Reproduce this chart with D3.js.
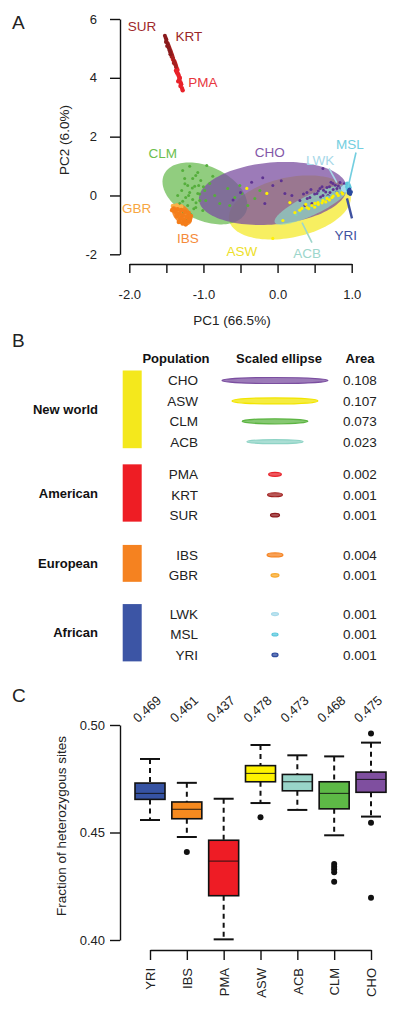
<!DOCTYPE html>
<html><head><meta charset="utf-8">
<script src="https://cdn.jsdelivr.net/npm/d3@7"></script>
<style>
body{margin:0;background:#fff}
svg{display:block}
text{font-family:"Liberation Sans",Arial,Helvetica,sans-serif}
</style>
</head><body><svg id="chart" width="400" height="1013"></svg>
<script>
// ---------------- Panel A data (PCA) ----------------
const ptsSUR = [[-1.52,5.43],[-1.51,5.36],[-1.50,5.30],[-1.505,5.22],[-1.48,5.15],[-1.49,5.08],[-1.47,5.02],[-1.46,4.95],[-1.45,4.88],[-1.445,4.80]];
const ptsKRT = [[-1.50,5.25],[-1.485,5.18],[-1.47,5.10],[-1.46,5.03],[-1.45,4.96],[-1.44,4.90],[-1.43,4.83],[-1.42,4.76],[-1.41,4.68],[-1.40,4.60],[-1.39,4.52],[-1.38,4.45],[-1.37,4.38],[-1.43,4.72],[-1.40,4.50]];
const ptsPMA = [[-1.41,4.62],[-1.39,4.55],[-1.38,4.48],[-1.37,4.40],[-1.36,4.33],[-1.35,4.27],[-1.36,4.20],[-1.34,4.12],[-1.33,4.05],[-1.32,3.98],[-1.33,3.92],[-1.31,3.85],[-1.30,3.78],[-1.31,3.72],[-1.29,3.65],[-1.28,3.58],[-1.35,4.15],[-1.32,4.00],[-1.34,3.88],[-1.37,4.25]];
const ptsCLM = [[-1.185,0.99],[-0.955,1.02],[-1.077,0.78],[-1.253,0.58],[-1.145,0.58],[-1.036,0.51],[-1.212,0.34],[-1.118,0.31],[-1.293,0.17],[-1.185,0.10],[-1.077,0.07],[-0.982,0.17],[-1.239,-0.07],[-1.145,-0.14],[-1.05,-0.17],[-1.32,-0.27],[-1.212,-0.34],[-1.104,-0.41],[-1.266,-0.58],[-1.172,-0.65],[-1.064,0.34],[-0.915,0.41],[-0.847,0.0],[-0.78,-0.27],[-0.672,0.24],[-0.577,-0.07],[-0.482,0.07],[-0.401,-0.34],[-0.307,-0.10],[-0.874,0.65],[-1.347,0.0],[-1.009,-0.51],[-1.226,-0.85],[-1.104,0.68],[-1.28,0.85],[-0.969,-0.17],[-0.645,-0.34],[-0.509,0.34],[-0.239,0.17],[-1.15,0.25],[-1.20,0.0],[-1.10,-0.25],[-1.25,0.40],[-1.05,0.05],[-1.13,-0.45],[-1.28,-0.20],[-1.00,0.30]];
const ptsGBR = [[-1.41,-0.36],[-1.38,-0.40],[-1.36,-0.35],[-1.33,-0.42],[-1.39,-0.48],[-1.30,-0.38],[-1.35,-0.52]];
const ptsIBS = [[-1.40,-0.45],[-1.35,-0.47],[-1.30,-0.50],[-1.25,-0.55],[-1.20,-0.60],[-1.38,-0.55],[-1.33,-0.62],[-1.28,-0.68],[-1.22,-0.72],[-1.18,-0.78],[-1.36,-0.70],[-1.31,-0.78],[-1.26,-0.84],[-1.21,-0.88],[-1.33,-0.90],[-1.28,-0.95],[-1.24,-0.98],[-1.42,-0.50],[-1.17,-0.70],[-1.19,-0.85]];
const ptsCHO = [[-0.064,0.34],[0.099,0.07],[0.193,0.0],[0.301,-0.17],[0.396,0.10],[0.436,-0.07],[0.531,0.07],[0.572,0.24],[0.612,0.0],[0.666,0.27],[0.707,0.10],[0.747,0.41],[0.801,0.24],[0.842,0.44],[0.869,0.10],[0.612,0.92],[0.464,-0.27],[-0.172,-0.27],[0.369,-0.34],[0.55,0.15],[0.60,0.30],[0.65,0.12],[0.70,0.30],[0.75,0.20],[0.78,0.35],[0.82,0.32],[0.85,0.25],[0.88,0.30],[0.72,0.45],[0.62,0.18],[0.50,0.05],[0.45,0.20],[0.68,0.0],[0.80,0.12],[0.90,0.40],[0.58,-0.05],[0.40,-0.10],[0.35,0.05],[-0.35,0.45],[-0.50,0.10],[-0.20,0.60],[0.05,0.50],[-0.60,-0.15]];
const ptsASW = [[0.234,-0.58],[0.328,-0.44],[0.396,-0.41],[0.464,-0.34],[0.504,-0.27],[0.545,-0.24],[0.612,-0.17],[0.666,-0.10],[0.734,-0.07],[0.801,0.07],[0.869,0.10],[0.910,0.17],[-0.145,0.07],[-0.415,0.24],[-0.064,-1.46],[0.166,-0.24],[0.072,-0.85],[0.30,-0.50],[0.42,-0.45],[0.55,-0.30],[0.60,-0.25],[0.70,-0.15],[0.75,-0.02],[0.82,0.0],[0.50,-0.40],[0.65,-0.22],[0.38,-0.30],[0.88,0.05]];
const ptsACB = [[0.30,-0.55],[0.35,-0.45],[0.45,-0.40],[0.52,-0.35],[0.58,-0.20],[0.68,-0.05],[0.74,0.02],[0.80,0.10],[0.85,0.15],[0.25,-0.65],[0.62,-0.12],[0.92,0.20]];
const ptsLWK = [[0.88,0.25],[0.90,0.30],[0.92,0.22],[0.93,0.28],[0.91,0.18],[0.89,0.20]];
const ptsMSL = [[0.94,0.30],[0.95,0.25],[0.96,0.35],[0.95,0.20],[0.97,0.28],[0.94,0.40]];
const ptsYRI = [[0.96,0.15],[0.97,0.10],[0.98,0.05],[0.97,0.20],[0.99,0.12],[0.96,0.08]];

// confidence ellipses: centre and two conjugate semi-axis vectors (PC units)
const ellASW = {c:[0.166,-0.408], u:[0.819,0.439], v:[0.0843,-0.998]};
const ellCLM = {c:[-0.98,0.07], u:[0.551,-0.647], v:[-0.154,-0.832]};
const ellCHO = {c:[-0.064,0.068], u:[0.996,0.219], v:[0.0365,-1.05]};
const ellACB = {c:[0.457,-0.323], u:[0.494,0.595], v:[0.0584,-0.307]};
const ellIBS = {c:[-1.29,-0.646], u:[0.1086,-0.3257], v:[-0.0828,-0.175]};

const pcaLabels = ["SUR","KRT","PMA","CLM","CHO","LWK","MSL","GBR","IBS","ASW","ACB","YRI"];
const pcaLabelPos = [[-1.83,5.75],[-1.196,5.41],[-1.009,3.84],[-1.55,1.43],[-0.105,1.46],[0.573,1.19],[0.977,1.73],[-1.90,-0.44],[-1.21,-1.46],[-0.48,-1.90],[0.40,-1.95],[0.92,-1.34]];
const leaders = [["MSL",[1.058,1.46],[0.95,0.27]],["LWK",[0.694,0.92],[0.80,0.44]],["YRI",[0.936,-0.10],[1.004,-0.78]],["ACB",[0.33,-0.92],[0.464,-1.60]]];
const xTicksA = [-2,-1.5,-1,-0.5,0,0.5,1];
const yTicksA = [-2,0,2,4,6];

// ---------------- Panel B data ----------------
const groupNames = ["New world","American","European","African"];
const popB = ["CHO","ASW","CLM","ACB","PMA","KRT","SUR","IBS","GBR","LWK","MSL","YRI"];
const popGroup = [0,0,0,0,1,1,1,2,2,3,3,3];
const areaB = ["0.108","0.107","0.073","0.023","0.002","0.001","0.001","0.004","0.001","0.001","0.001","0.001"];
const ellWidthB = [1.0,0.81,0.62,0.53,0.12,0.14,0.085,0.15,0.075,0.066,0.057,0.057];
const ellHeightB = [0.057,0.057,0.047,0.038,0.038,0.038,0.033,0.038,0.033,0.028,0.028,0.033];

// ---------------- Panel C data ----------------
const boxCats = ["YRI","IBS","PMA","ASW","ACB","CLM","CHO"];
const meansC = ["0.469","0.461","0.437","0.478","0.473","0.468","0.475"];
const whiskLo = [0.4558,0.4479,0.4003,0.4637,0.4605,0.4487,0.4574];
const q1C = [0.4654,0.4564,0.4206,0.4736,0.4694,0.4610,0.4687];
const medC = [0.4682,0.4608,0.4367,0.4775,0.4736,0.4682,0.4747];
const q3C = [0.4730,0.4642,0.4464,0.4811,0.4770,0.4736,0.4781];
const whiskHi = [0.4842,0.4731,0.4657,0.4907,0.4859,0.4854,0.4918];
const outliersC = [[],[0.4409],[],[0.4571],[],[0.4353,0.4341,0.4329,0.4315,0.4271],[0.4961,0.4545,0.4197]];
const yTicksC = [0.40,0.45,0.50];

// ---------------- styles ----------------
const popColor = {SUR:"#8E1B1E",KRT:"#A1201F",PMA:"#E8232B",CLM:"#5DB543",GBR:"#F8A92E",IBS:"#F5821F",
  CHO:"#7B4FA0",ASW:"#F2E500",ACB:"#8ED3C5",LWK:"#A8DAEA",MSL:"#5CC8DD",YRI:"#2F4C9F"};
const labelColor = {SUR:"#A0282B",KRT:"#9A2527",PMA:"#E8373D",CLM:"#6CBE4E",CHO:"#8358A8",LWK:"#A7D8E8",MSL:"#73CEE0",
  GBR:"#F7A541",IBS:"#F58A3A",ASW:"#EDE02A",ACB:"#9DD6CB",YRI:"#3F52A0"};
const dotColor = {SUR:"#8A1A1C",KRT:"#A8201F",PMA:"#E8222A",CLM:"#55AE3C",GBR:"#F9B24A",IBS:"#F47D1A",
  CHO:"#5E3391",ASW:"#FFF000",ACB:"#7FCBBB",LWK:"#A8DAEA",MSL:"#5CC8DD",YRI:"#2A4A9E"};
const groupColors = ["#F4E81C","#EE1D24","#F58220","#3C55A5"];
const boxColors = ["#3653A3","#F68A1F","#EE1C25","#FFF200","#99D5C9","#5DB946","#7F4F9F"];

const svg = d3.select("#chart");
const FONT = "'Liberation Sans',Arial,Helvetica,sans-serif";

// ================= Panel A =================
const xA = d3.scaleLinear().domain([-2,1]).range([129.3,351.7]);
const yA = d3.scaleLinear().domain([-2,6]).range([254.3,19]);
svg.append("text").attr("x",12).attr("y",28.5).attr("font-size",19).attr("fill","#222").text("A");

const fmtA = d => (d<0?"-":"")+Math.abs(d).toFixed(1);
const gxA = svg.append("g").attr("transform","translate(0,264)")
  .call(d3.axisBottom(xA).tickValues(xTicksA).tickSize(9).tickSizeOuter(0).tickPadding(17)
    .tickFormat(d => Number.isInteger(d) ? fmtA(d) : ""));
const gyA = svg.append("g").attr("transform","translate(120,0)")
  .call(d3.axisLeft(yA).tickValues(yTicksA).tickSize(10).tickSizeOuter(0).tickPadding(13)
    .tickFormat(d => (d<0?"-":"")+Math.abs(d)));
[gxA,gyA].forEach(g=>{
  g.attr("font-family",FONT).attr("font-size",13);
  g.selectAll("path,line").attr("stroke","#111").attr("stroke-width",1.4);
  g.selectAll("text").attr("fill","#222");
});
svg.append("text").attr("x",232).attr("y",325).attr("text-anchor","middle").attr("font-size",13.5).attr("fill","#222").text("PC1 (66.5%)");
svg.append("text").attr("transform","translate(69,140) rotate(-90)").attr("text-anchor","middle").attr("font-size",13.5).attr("fill","#222").text("PC2 (6.0%)");

function ellPath(e){
  const pts = d3.range(0,360,3).map(t=>{const r=t*Math.PI/180;
    return [xA(e.c[0]+e.u[0]*Math.cos(r)+e.v[0]*Math.sin(r)), yA(e.c[1]+e.u[1]*Math.cos(r)+e.v[1]*Math.sin(r))];});
  return d3.line().curve(d3.curveLinearClosed)(pts);
}
const gA = svg.append("g");
[[ellASW,"ASW",0.62],[ellCLM,"CLM",0.68],[ellCHO,"CHO",0.75],[ellACB,"ACB",0.72],[ellIBS,"IBS",0.9]].forEach(([e,p,o])=>{
  gA.append("path").attr("d",ellPath(e)).attr("fill",popColor[p]).attr("fill-opacity",o).attr("stroke","none");
});
const ptSets = [["CLM",ptsCLM,1.5],["GBR",ptsGBR,2.4],["IBS",ptsIBS,2.4],["CHO",ptsCHO,1.5],["ACB",ptsACB,1.6],["ASW",ptsASW,1.6],
  ["LWK",ptsLWK,2.2],["MSL",ptsMSL,2.2],["YRI",ptsYRI,2],["PMA",ptsPMA,2.2],["KRT",ptsKRT,2],["SUR",ptsSUR,2]];
ptSets.forEach(([p,pts,r])=>{
  gA.selectAll(null).data(pts).enter().append("circle")
    .attr("cx",d=>xA(d[0])).attr("cy",d=>yA(d[1])).attr("r",r).attr("fill",dotColor[p]);
});
leaders.forEach(([p,a,b])=>{
  gA.append("line").attr("x1",xA(a[0])).attr("y1",yA(a[1])).attr("x2",xA(b[0])).attr("y2",yA(b[1]))
    .attr("stroke",labelColor[p]).attr("stroke-width",p==="YRI"?2.4:1.6);
});
pcaLabels.forEach((p,i)=>{
  gA.append("text").attr("x",xA(pcaLabelPos[i][0])).attr("y",yA(pcaLabelPos[i][1])).attr("dy","0.36em")
    .attr("text-anchor","middle").attr("font-size",13.5).attr("fill",labelColor[p]).text(p);
});

// ================= Panel B =================
svg.append("text").attr("x",12).attr("y",347).attr("font-size",19).attr("fill","#222").text("B");
const headers = [["Population",176],["Scaled ellipse",279],["Area",360]];
headers.forEach(([t,x])=>svg.append("text").attr("x",x).attr("y",363).attr("text-anchor","middle")
  .attr("font-size",13).attr("font-weight","bold").attr("fill","#111").text(t));
const gapOffsets = [0,0.6,1.55,2.45];
const slot = i => i + gapOffsets[popGroup[i]];
const yRow = d3.scaleLinear().domain([0,1]).range([380.5,400.9]);
const ellScale = d3.scaleLinear().domain([0,1]).range([0,106]);
groupNames.forEach((g,gi)=>{
  const idx = popGroup.map((v,i)=>v===gi?i:-1).filter(i=>i>=0);
  const top = yRow(slot(idx[0]))-10, bot = yRow(slot(idx[idx.length-1]))+6.5;
  svg.append("rect").attr("x",122.7).attr("y",top).attr("width",19).attr("height",bot-top).attr("fill",groupColors[gi]);
  svg.append("text").attr("x",98).attr("y",(top+bot)/2).attr("dy","0.36em").attr("text-anchor","end")
    .attr("font-size",13).attr("font-weight","bold").attr("fill","#111").text(g);
});
popB.forEach((p,i)=>{
  const y = yRow(slot(i));
  svg.append("text").attr("x",198).attr("y",y).attr("dy","0.36em").attr("text-anchor","end")
    .attr("font-size",13.5).attr("fill","#222").text(p);
  svg.append("ellipse").attr("cx",275).attr("cy",y).attr("rx",ellScale(ellWidthB[i])/2).attr("ry",ellScale(ellHeightB[i])/2)
    .attr("fill",popColor[p]).attr("fill-opacity",0.75).attr("stroke",popColor[p]).attr("stroke-width",1.2);
  svg.append("text").attr("x",343).attr("y",y).attr("dy","0.36em").attr("font-size",13.5).attr("fill","#222").text(areaB[i]);
});

// ================= Panel C =================
svg.append("text").attr("x",12).attr("y",702).attr("font-size",19).attr("fill","#222").text("C");
const xC = d3.scalePoint().domain(boxCats).range([150,371]);
const yC = d3.scaleLinear().domain([0.40,0.50]).range([940,725]);
const gyC = svg.append("g").attr("transform","translate(120,0)")
  .call(d3.axisLeft(yC).tickValues(yTicksC).tickSize(10).tickSizeOuter(0).tickPadding(5).tickFormat(d3.format(".2f")));
const gxC = svg.append("g").attr("transform","translate(0,950)")
  .call(d3.axisBottom(xC).tickSize(10).tickSizeOuter(0).tickPadding(8));
gxC.selectAll("text").attr("transform","rotate(-90)").attr("text-anchor","end").attr("x",-18).attr("y",0).attr("dy","0.36em");
[gxC,gyC].forEach(g=>{
  g.attr("font-family",FONT).attr("font-size",13);
  g.selectAll("path,line").attr("stroke","#111").attr("stroke-width",1.4);
  g.selectAll("text").attr("fill","#222");
});
svg.append("text").attr("transform","translate(66,826) rotate(-90)").attr("text-anchor","middle").attr("font-size",13.5).attr("fill","#222").text("Fraction of heterozygous sites");

const gC = svg.append("g");
const bw = 30, cw = 20;
boxCats.forEach((c,i)=>{
  const x = xC(c);
  gC.append("line").attr("x1",x).attr("x2",x).attr("y1",yC(whiskHi[i])).attr("y2",yC(q3C[i]))
    .attr("stroke","#111").attr("stroke-width",2).attr("stroke-dasharray","5,4");
  gC.append("line").attr("x1",x).attr("x2",x).attr("y1",yC(q1C[i])).attr("y2",yC(whiskLo[i]))
    .attr("stroke","#111").attr("stroke-width",2).attr("stroke-dasharray","5,4");
  [whiskHi[i],whiskLo[i]].forEach(v=>gC.append("line").attr("x1",x-cw/2).attr("x2",x+cw/2).attr("y1",yC(v)).attr("y2",yC(v))
    .attr("stroke","#111").attr("stroke-width",2));
  gC.append("rect").attr("x",x-bw/2).attr("y",yC(q3C[i])).attr("width",bw).attr("height",yC(q1C[i])-yC(q3C[i]))
    .attr("fill",boxColors[i]).attr("stroke","#111").attr("stroke-width",1.6);
  gC.append("line").attr("x1",x-bw/2).attr("x2",x+bw/2).attr("y1",yC(medC[i])).attr("y2",yC(medC[i]))
    .attr("stroke","#111").attr("stroke-width",0.9);
  outliersC[i].forEach(v=>gC.append("circle").attr("cx",x).attr("cy",yC(v)).attr("r",3).attr("fill","#111"));
  gC.append("text").attr("transform",`translate(${x-3},709) rotate(-42)`).attr("text-anchor","middle").attr("dy","0.36em")
    .attr("font-size",13).attr("fill","#222").text(meansC[i]);
});
</script></body></html>
